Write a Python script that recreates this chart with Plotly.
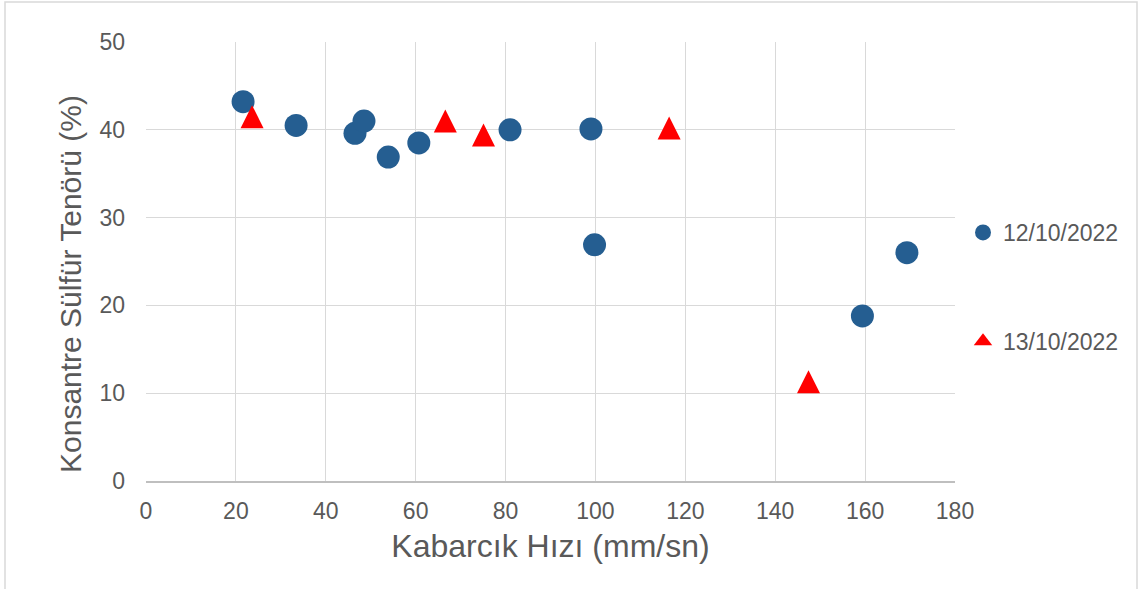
import plotly.graph_objects as go

# Data
x_1210 = [21.6, 33.4, 46.5, 48.5, 53.9, 60.7, 81.0, 99.0, 99.8, 159.4, 169.3]
y_1210 = [43.2, 40.5, 39.6, 41.0, 36.9, 38.5, 40.0, 40.1, 26.9, 18.8, 26.0]
x_1310 = [23.6, 66.6, 75.1, 116.4, 147.4]
y_1310 = [41.5, 41.0, 39.4, 40.2, 11.3]
series_names = ["12/10/2022", "13/10/2022"]
x_title = "Kabarcık Hızı (mm/sn)"
y_title = "Konsantre Sülfür Tenörü (%)"

FONT = "Arial, Liberation Sans, sans-serif"
TXT = "#595959"
GRID = "#d9d9d9"
BLUE = "#255e91"
RED = "#ff0000"

fig = go.Figure()
fig.add_trace(go.Scatter(x=x_1210, y=y_1210, mode="markers", name=series_names[0],
                         legendgroup="a",
                         marker=dict(symbol="circle", size=23, color=BLUE)))
# equilateral-looking triangles, centred on the data point
fig.add_trace(go.Scatter(x=x_1310, y=y_1310, mode="markers", name=series_names[1],
                         legendgroup="b", showlegend=False,
                         marker=dict(symbol="arrow-down", angle=180, size=23, standoff=11.5,
                                     color=RED, line=dict(width=0))))
# legend entry for the triangle series
fig.add_trace(go.Scatter(x=[None], y=[None], mode="markers", name=series_names[1],
                         legendgroup="b", showlegend=True, hoverinfo="skip",
                         marker=dict(symbol="triangle-up", size=16, color=RED)))

W, H = 1144, 589
L, R, T, B = 146, 1144 - 955, 42, 589 - 481
pw, ph = W - L - R, H - T - B

fig.update_layout(
    width=W, height=H,
    margin=dict(l=L, r=R, t=T, b=B),
    paper_bgcolor="white", plot_bgcolor="white",
    font=dict(family=FONT, color=TXT, size=23),
    showlegend=True,
    legend=dict(x=(963 - L) / pw, y=(481 - 211) / ph, xanchor="left", yanchor="top",
                font=dict(size=23, color=TXT, family=FONT),
                tracegroupgap=76, itemsizing="trace", bgcolor="rgba(0,0,0,0)"),
    xaxis=dict(range=[0, 180], dtick=20, showgrid=True, gridcolor=GRID, gridwidth=1.3,
               zeroline=False, showline=True, linecolor="#bfbfbf", linewidth=1.5,
               ticks="", ticklabelstandoff=9,
               tickfont=dict(size=23, color=TXT, family=FONT),
               title=dict(text=x_title, font=dict(size=32, color=TXT, family=FONT), standoff=11)),
    yaxis=dict(range=[0, 50], dtick=10, showgrid=True, gridcolor=GRID, gridwidth=1.3,
               zeroline=False, showline=False, ticks="", ticklabelstandoff=20,
               tickfont=dict(size=23, color=TXT, family=FONT)),
)
# y-axis title (Excel places it slightly below the plot-area centre)
fig.add_annotation(text=y_title, textangle=-90, showarrow=False,
                   xref="paper", yref="paper",
                   x=(70 - L) / pw, y=(481 - 284) / ph, xanchor="center", yanchor="middle",
                   font=dict(size=30, color=TXT, family=FONT))
# outer chart border
fig.add_shape(type="rect", xref="paper", yref="paper",
              x0=(5 - L) / pw, x1=(1137 - L) / pw,
              y0=(481 - 600) / ph, y1=(481 - 2) / ph,
              line=dict(color="#d9d9d9", width=1.5), fillcolor="rgba(0,0,0,0)", layer="below")

fig.write_html("out.html", config={"displayModeBar": False},
               post_script="document.body.style.margin='0px';")
